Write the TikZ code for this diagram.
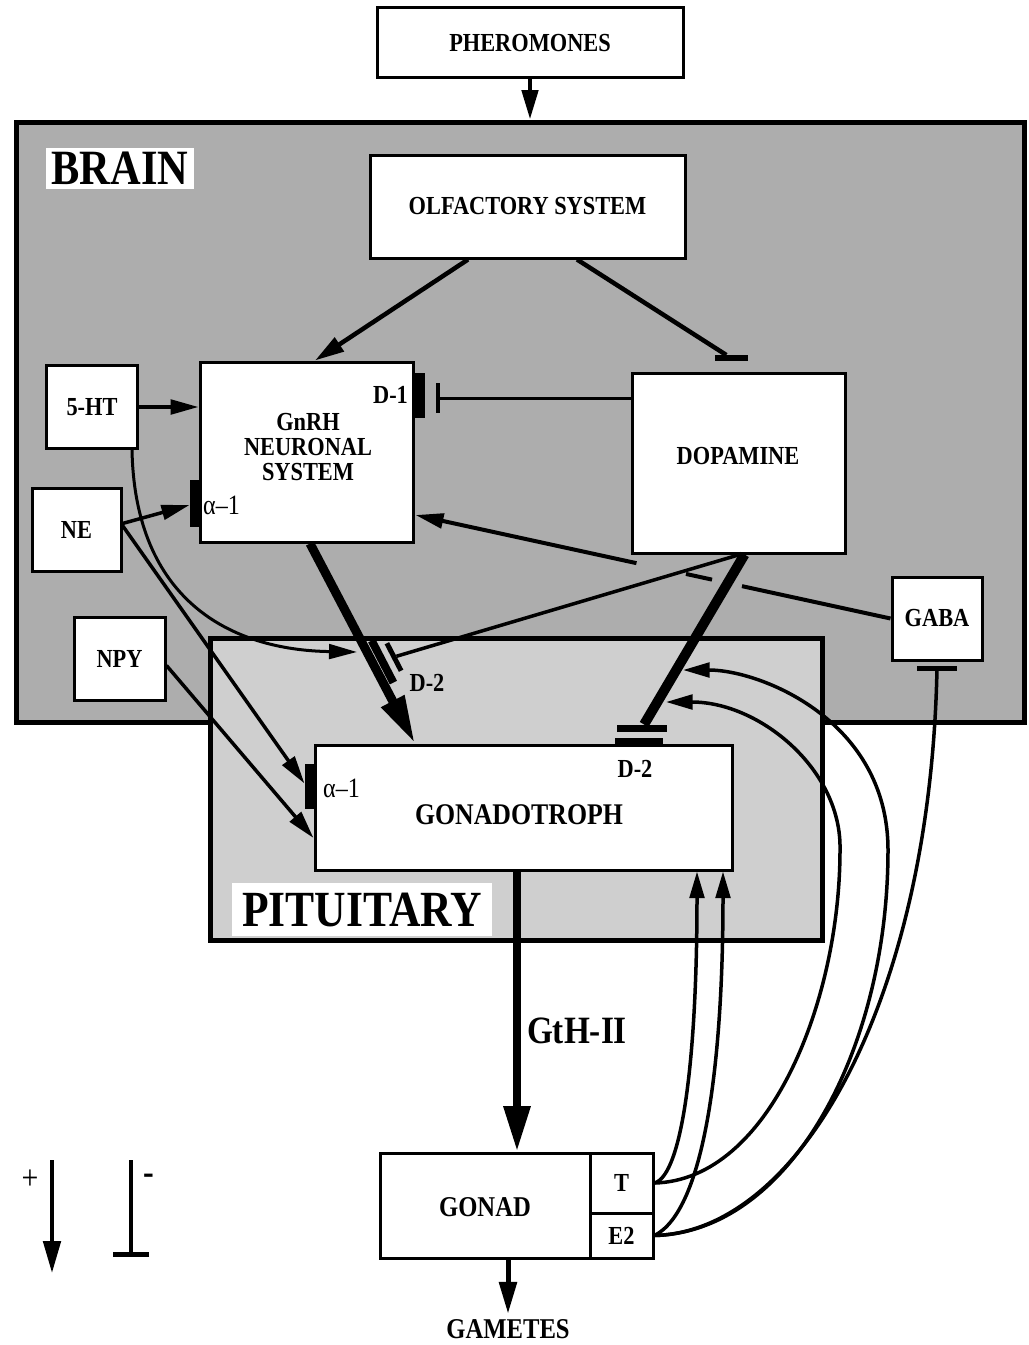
\documentclass[tikz,border=0pt]{standalone}
\usepackage{fontspec}
\setmainfont{Liberation Serif}[FakeStretch=0.86]
\usetikzlibrary{arrows.meta,calc}
\newdimen\px
\px=0.75pt
\definecolor{brainc}{gray}{0.68}
\definecolor{pitc}{gray}{0.81}
\begin{document}
\begin{tikzpicture}[x=0.75pt,y=-0.75pt,
  box/.style={draw, line width=3\px, fill=white, inner sep=0pt, font=\fontsize{19.5}{21}\selectfont\bfseries},
  txt/.style={inner sep=0pt, font=\fontsize{19.5}{21}\selectfont\bfseries},
  rtxt/.style={inner sep=0pt, font=\fontsize{21}{23}\selectfont},
  barnode/.style={fill=black, inner sep=0pt, outer sep=0pt},
  arr/.style={line width=3.5\px, -{Triangle[length=21pt,width=11pt]}},
  fb/.style={line width=3.5\px, -{Triangle[length=20pt,width=11pt]}}
]
\useasboundingbox (0,0) rectangle (1028,1345);
\fill[white] (0,0) rectangle (1028,1345);

% regions
\node[draw, line width=5\px, fill=brainc, minimum width=1008\px, minimum height=600\px, inner sep=0pt] (brain) at (520,422) {};
\node[draw, line width=5\px, fill=pitc, minimum width=612\px, minimum height=302\px, inner sep=0pt] (pit) at (516,789) {};
\node[fill=white, minimum width=148\px, minimum height=41\px, inner sep=0pt, font=\fontsize{37}{39}\selectfont\bfseries] (brainlbl) at (120,168) {BRAIN};
\node[fill=white, minimum width=260\px, minimum height=53\px, inner sep=0pt, font=\fontsize{38}{40}\selectfont\bfseries] (pitlbl) at (362,909.5) {PITUITARY};

% boxes
\node[box, minimum width=306\px, minimum height=70\px] (pher) at (530,43) {PHEROMONES};
\node[box, minimum width=315\px, minimum height=103\px] (olf) at (527.5,206.5) {OLFACTORY SYSTEM};
\node[box, minimum width=213\px, minimum height=180\px] (gnrh) at (306.5,452) {};
\node[txt, align=center, font=\fontsize{19.5}{19}\selectfont\bfseries] (gnrhlbl) at (308,447) {GnRH\\NEURONAL\\SYSTEM};
\node[box, minimum width=213\px, minimum height=180\px] (dop) at (738.5,463) {};
\node[txt] (doplbl) at (738,456) {DOPAMINE};
\node[box, minimum width=91\px, minimum height=83\px] (ht) at (92,407) {5-HT};
\node[box, minimum width=89\px, minimum height=83\px] (ne) at (76.5,529.5) {NE};
\node[box, minimum width=91\px, minimum height=83\px] (npy) at (119.5,658.5) {NPY};
\node[box, minimum width=90\px, minimum height=83\px] (gaba) at (937,618.5) {GABA};
\node[box, minimum width=417\px, minimum height=125\px] (gonado) at (523.5,807.5) {};
\node[txt, font=\fontsize{22.5}{24}\selectfont\bfseries] (gonadolbl) at (519,815) {GONADOTROPH};
\node[box, minimum width=210\px, minimum height=105\px] (gonad) at (485,1205.5) {};
\node[txt, font=\fontsize{21.5}{23}\selectfont\bfseries] (gonadlbl) at (485,1207) {GONAD};
\node[box, minimum width=63\px, minimum height=60\px] (T) at (621.5,1183) {T};
\node[box, minimum width=63\px, minimum height=45\px] (E2) at (621.5,1235.5) {E2};
\node[txt, font=\fontsize{21.5}{23}\selectfont\bfseries] (gametes) at (508,1329) {GAMETES};
\node[txt, font=\fontsize{29}{31}\selectfont\bfseries] (gth) at (577,1031) {GtH-II};

% receptors
\fill ($(gnrh.east)+(0,-79)$) rectangle ($(gnrh.east)+(10,-34)$);
\fill ($(gnrh.west)+(-9,28)$) rectangle ($(gnrh.west)+(1,75)$);
\fill ($(gonado.west)+(-9,-44)$) rectangle ($(gonado.west)+(1,1)$);
\fill ($(gonado.north)+(91.5,-6)$) rectangle ($(gonado.north)+(139.5,2)$);
\node[txt] (d1) at ($(gnrh.east)+(-24,-57)$) {D-1};
\node[rtxt] (a1) at ($(gnrh.west)+(23,53)$) {α–1};
\node[rtxt] (a1g) at ($(gonado.west)+(28,-19.5)$) {α–1};
\node[txt] (d2g) at ($(gonado.north)+(111.5,25)$) {D-2};
\node[txt] (d2n) at (427,683) {D-2};

% bars
\node[barnode, minimum width=33\px, minimum height=6\px] (bar1) at (731,358) {};
\node[barnode, minimum width=4\px, minimum height=30\px] (bar5) at (438,398) {};
\node[barnode, minimum width=50\px, minimum height=7\px] (bar2) at (642,728) {};
\node[barnode, minimum width=40\px, minimum height=5\px] (bar4) at (937,668) {};
\node[barnode, minimum width=31\px, minimum height=5\px, rotate=-62.7] (bar3) at (394,657) {};

\coordinate (hend) at (357,652);
\coordinate (tA) at (666,702);
\coordinate (tB) at (683,670);

% connectors
\draw[line width=4.5\px, -{Triangle[length=22pt,width=12pt]}] (pher.south) -- (pher.south |- brain.north);
\draw[line width=4.5\px, -{Triangle[length=22pt,width=12pt]}] ($(olf.south)+(-59.5,0)$) -- ($(gnrh.north)+(8.5,0)$);
\draw[line width=4.5\px] ($(olf.south)+(49.5,0)$) -- (bar1);
\draw[line width=3\px] ($(dop.west)+(0,-65)$) -- (bar5);
\draw[arr] (ht.east) -- (ht.east -| gnrh.west);
\draw[arr] ($(ne.east)+(0,-6)$) -- ($(gnrh.west)+(-9,53)$);
\draw[arr] ($(ne.east)+(0,-4)$) -- ($(gonado.west)+(-9,-24)$);
\draw[arr] ($(npy.east)+(0,7)$) -- ($(gonado.west)+(0,30.5)$);
\draw[arr, line width=3\px] ($(ht.south)+(40,0)$) .. controls +(3,150) and +(-127,-2) .. (hend);

% GnRH -> gonadotroph
\draw[line width=9\px, -{Triangle[length=36pt,width=18pt]}] ($(gnrh.south)+(3.5,0)$) -- ($(gonado.north)+(-108.5,0)$);
\draw[line width=8\px] (371.7,640.6) -- (393.4,682.6);

% dopamine
\draw[line width=3.5\px] ($(dop.south)+(1.5,0)$) -- (bar3);
\draw[line width=10\px] ($(dop.south)+(6,0)$) -- (bar2);

% GABA -> GnRH
\draw[line width=4\px, dash pattern=on 114pt off 23pt on 20pt off 38pt on 400pt, -{Triangle[length=21pt,width=11pt]}] (gaba.west) -- ($(gnrh.east)+(1,63)$);

% GtH-II and gametes
\coordinate (g1) at ($(gonado.south)+(-6.5,0)$);
\draw[line width=8\px, -{Triangle[length=34pt,width=19pt]}] (g1) -- (g1 |- gonad.north);
\coordinate (g2) at ($(gonad.south)+(23,0)$);
\draw[line width=5\px, shorten >=4pt, -{Triangle[length=24pt,width=13pt]}] (g2) -- (g2 |- gametes.north);

% steroid feedback
\draw[fb] (T.east) .. controls (682,1175) and (697,1060) .. ($(gonado.south)+(173.5,0)$);
\draw[fb] (E2.east) .. controls (705,1210) and (723,1060) .. ($(gonado.south)+(199.5,0)$);
\draw[fb] (T.east) .. controls (770,1180) and (840,1000) .. (840,850) .. controls (842,770) and (760,702) .. (tA);
\draw[fb] (E2.east) .. controls (790,1232) and (888,1050) .. (888,850) .. controls (888,720) and (760,670) .. (tB);
\draw[line width=3.5\px] (E2.east) .. controls (800,1232) and (930,1000) .. (bar4);

% legend
\node[inner sep=0pt, font=\fontsize{26}{28}\selectfont] (plus) at (30,1180) {+};
\coordinate (l1) at (52,1160);
\coordinate (l2) at (52,1273);
\draw[line width=4\px, -{Triangle[length=24pt,width=13pt]}] (l1) -- (l2);
\node[txt, font=\fontsize{28}{30}\selectfont\bfseries] (minus) at (149,1179) {-};
\coordinate (l3) at (131,1160);
\coordinate (l4) at (131,1257);
\draw[line width=4\px, -{Bar[width=27pt, line width=3.75pt]}] (l3) -- (l4);
\end{tikzpicture}
\end{document}
